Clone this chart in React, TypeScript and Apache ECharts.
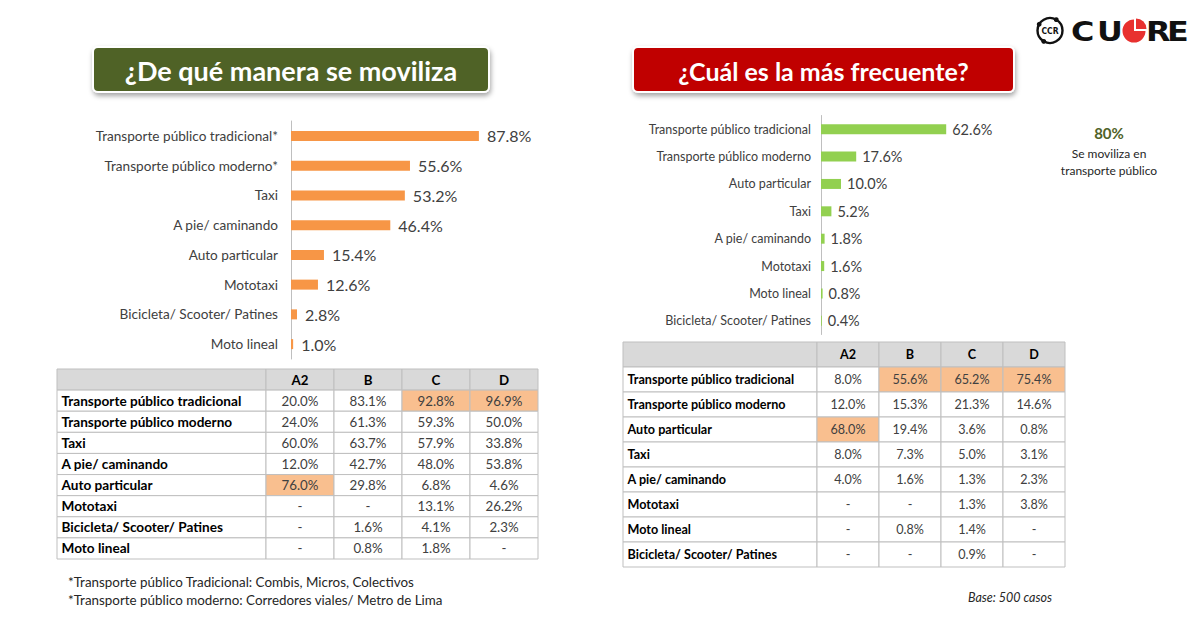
import React, { useEffect, useRef } from 'react';
import * as echarts from 'echarts';

// ---------- DATA ----------
const leftCategories = [
  'Transporte público tradicional*',
  'Transporte público moderno*',
  'Taxi',
  'A pie/ caminando',
  'Auto particular',
  'Mototaxi',
  'Bicicleta/ Scooter/ Patines',
  'Moto lineal',
];
const leftValues = [87.8, 55.6, 53.2, 46.4, 15.4, 12.6, 2.8, 1.0];

const rightCategories = [
  'Transporte público tradicional',
  'Transporte público moderno',
  'Auto particular',
  'Taxi',
  'A pie/ caminando',
  'Mototaxi',
  'Moto lineal',
  'Bicicleta/ Scooter/ Patines',
];
const rightValues = [62.6, 17.6, 10.0, 5.2, 1.8, 1.6, 0.8, 0.4];

const segments = ['A2', 'B', 'C', 'D'];

const leftTableRows = [
  'Transporte público tradicional',
  'Transporte público moderno',
  'Taxi',
  'A pie/ caminando',
  'Auto particular',
  'Mototaxi',
  'Bicicleta/ Scooter/ Patines',
  'Moto lineal',
];
const leftA2 = [20.0, 24.0, 60.0, 12.0, 76.0, null, null, null];
const leftB = [83.1, 61.3, 63.7, 42.7, 29.8, null, 1.6, 0.8];
const leftC = [92.8, 59.3, 57.9, 48.0, 6.8, 13.1, 4.1, 1.8];
const leftD = [96.9, 50.0, 33.8, 53.8, 4.6, 26.2, 2.3, null];
const leftHighlights = [[0, 2], [0, 3], [4, 0]];

const rightTableRows = [
  'Transporte público tradicional',
  'Transporte público moderno',
  'Auto particular',
  'Taxi',
  'A pie/ caminando',
  'Mototaxi',
  'Moto lineal',
  'Bicicleta/ Scooter/ Patines',
];
const rightA2 = [8.0, 12.0, 68.0, 8.0, 4.0, null, null, null];
const rightB = [55.6, 15.3, 19.4, 7.3, 1.6, null, 0.8, null];
const rightC = [65.2, 21.3, 3.6, 5.0, 1.3, 1.3, 1.4, 0.9];
const rightD = [75.4, 14.6, 0.8, 3.1, 2.3, 3.8, null, null];
const rightHighlights = [[0, 1], [0, 2], [0, 3], [2, 0]];

const footnotes = [
  '*Transporte público Tradicional: Combis, Micros, Colectivos',
  '*Transporte público moderno: Corredores viales/ Metro de Lima',
];

// ---------- STYLE ----------
const FONT = 'Lato, "Open Sans", sans-serif';
const BORDER = '#bfbfbf';
const HEADER_BG = '#d9d9d9';
const HL = '#f9bf8f';
const TXT = '#404040';

const fmt = (v: number | null) => (v == null ? '-' : v.toFixed(1) + '%');

type Cell = { value: number[]; text: string; bg: string; bold: boolean; color: string };

function tableParts(
  rows: string[],
  columns: (number | null)[][],
  highlights: number[][],
  gridIdx: number,
) {
  const yCats = ['hdr', ...rows];
  const xAxes = [
    { gridIndex: gridIdx, type: 'category', data: ['label'], show: false },
    { gridIndex: gridIdx + 1, type: 'category', data: segments, show: false },
  ];
  const yAxes = [
    { gridIndex: gridIdx, type: 'category', data: yCats, inverse: true, show: false },
    { gridIndex: gridIdx + 1, type: 'category', data: yCats, inverse: true, show: false },
  ];
  const labelCells: Cell[] = yCats.map((name, r) => ({
    value: [0, r],
    text: r === 0 ? '' : name,
    bg: r === 0 ? HEADER_BG : '#ffffff',
    bold: true,
    color: '#000',
  }));
  const valueCells: Cell[] = [];
  for (let r = 0; r < yCats.length; r++) {
    for (let c = 0; c < segments.length; c++) {
      if (r === 0) {
        valueCells.push({ value: [c, 0], text: segments[c], bg: HEADER_BG, bold: true, color: '#000' });
      } else {
        const v = columns[c][r - 1];
        const hl = highlights.some((h) => h[0] === r - 1 && h[1] === c);
        valueCells.push({ value: [c, r, v == null ? 0 : v], text: fmt(v), bg: hl ? HL : '#ffffff', bold: false, color: TXT });
      }
    }
  }
  return { xAxes, yAxes, labelCells, valueCells };
}

function buildOption() {
  const grids = [
    { left: 291, top: 121, width: 214, height: 238 },
    { left: 821, top: 115.5, width: 200, height: 219 },
    { left: 57, top: 369, width: 209, height: 190 },
    { left: 266, top: 369, width: 272, height: 190 },
    { left: 623, top: 342, width: 194, height: 225 },
    { left: 817, top: 342, width: 248, height: 225 },
  ].map((g) => ({ ...g, outerBoundsMode: 'none', containLabel: false }));

  const lt = tableParts(leftTableRows, [leftA2, leftB, leftC, leftD], leftHighlights, 2);
  const rt = tableParts(rightTableRows, [rightA2, rightB, rightC, rightD], rightHighlights, 4);

  const xAxis: any[] = [
    { gridIndex: 0, type: 'value', min: 0, max: 100, show: false },
    { gridIndex: 1, type: 'value', min: 0, max: 100, show: false },
    ...lt.xAxes,
    ...rt.xAxes,
  ];
  const catAxis = (gridIndex: number, data: string[], fontSize: number, margin: number) => ({
    gridIndex,
    type: 'category',
    data,
    inverse: true,
    axisLine: { show: true, lineStyle: { color: BORDER, width: 1 } },
    axisTick: { show: false },
    axisLabel: { fontSize, color: TXT, margin, fontFamily: FONT },
  });
  const yAxis: any[] = [
    catAxis(0, leftCategories, 13.6, 13),
    catAxis(1, rightCategories, 12.5, 10),
    ...lt.yAxes,
    ...rt.yAxes,
  ];

  const barSeries = (idx: number, data: number[], color: string, width: number, fontSize: number, dist: number) => ({
    type: 'bar',
    xAxisIndex: idx,
    yAxisIndex: idx,
    data,
    barWidth: width,
    itemStyle: { color },
    label: {
      show: true,
      position: 'right',
      distance: dist,
      fontSize,
      color: TXT,
      fontFamily: FONT,
      formatter: (p: any) => Number(p.value).toFixed(1) + '%',
    },
    emphasis: { disabled: true },
  });

  const cellSeries = (axisIdx: number, cells: Cell[], fontSize: number, isLabel: boolean) => ({
    type: 'custom',
    xAxisIndex: axisIdx,
    yAxisIndex: axisIdx,
    data: cells.map((c) => c.value),
    encode: { x: 0, y: 1 },
    renderItem: (params: any, api: any) => {
      const cell = cells[params.dataIndex];
      const p = api.coord([api.value(0), api.value(1)]);
      const s = api.size([1, 1]);
      return {
        type: 'rect',
        shape: { x: p[0] - s[0] / 2, y: p[1] - s[1] / 2, width: s[0], height: s[1] },
        style: { fill: cell.bg, stroke: BORDER, lineWidth: 1 },
        textContent: {
          style: {
            text: cell.text,
            fill: cell.color,
            fontSize,
            fontFamily: FONT,
            fontWeight: cell.bold ? 'bold' : 'normal',
          },
        },
        textConfig: { position: isLabel ? 'insideLeft' : 'inside', distance: 5 },
      };
    },
    emphasis: { disabled: true },
  });

  const series: any[] = [
    barSeries(0, leftValues, '#f79646', 10, 16, 8),
    barSeries(1, rightValues, '#92d050', 10, 14.5, 6),
    cellSeries(2, lt.labelCells, 13.6, true),
    cellSeries(3, lt.valueCells, 13.3, false),
    cellSeries(4, rt.labelCells, 12.6, true),
    cellSeries(5, rt.valueCells, 12.6, false),
  ];

  const text = (x: number, y: number, t: string, o: any = {}) => ({
    type: 'text',
    x,
    y,
    scaleX: o.scaleX || 1,
    style: {
      text: t,
      fill: o.fill || '#262626',
      fontSize: o.fontSize || 13,
      fontFamily: o.fontFamily || FONT,
      fontWeight: o.fontWeight || 'normal',
      fontStyle: o.fontStyle || 'normal',
      align: o.align || 'left',
      verticalAlign: 'middle',
      textAlign: o.align || 'left',
      textVerticalAlign: 'middle',
    },
    z: 10,
  });

  const titleBox = (x: number, y: number, w: number, h: number, fill: string, t: string, fs: number) => [
    {
      type: 'rect',
      shape: { x, y, width: w, height: h, r: 5 },
      style: {
        fill,
        stroke: '#ffffff',
        lineWidth: 2,
        shadowBlur: 5,
        shadowOffsetX: 1,
        shadowOffsetY: 3,
        shadowColor: 'rgba(0,0,0,0.35)',
      },
      z: 5,
    },
    text(x + w / 2, y + h / 2 + 1, t, { fill: '#ffffff', fontSize: fs, fontWeight: 'bold', align: 'center' }),
  ];

  const logoFont = '"DejaVu Sans", sans-serif';
  const letter = (x: number, t: string) =>
    text(x, 31.5, t, { fontSize: 27, fontWeight: 'bold', fill: '#111', fontFamily: logoFont, scaleX: 1.18 });
  const ringCx = 1050;
  const ringCy = 30.5;
  const ringR = 12.5;
  const dot = (deg: number) => ({
    type: 'circle',
    shape: {
      cx: ringCx + ringR * Math.cos((deg * Math.PI) / 180),
      cy: ringCy + ringR * Math.sin((deg * Math.PI) / 180),
      r: 2.4,
    },
    style: { fill: '#111' },
    z: 11,
  });
  const graphic: any[] = [
    ...titleBox(93, 47, 396, 45, '#4f6228', '¿De qué manera se moviliza', 27),
    ...titleBox(633, 47, 381, 45, '#c00000', '¿Cuál es la más frecuente?', 25),
    // logo
    { type: 'circle', shape: { cx: ringCx, cy: ringCy, r: ringR }, style: { fill: 'none', stroke: '#111', lineWidth: 2.4 }, z: 10 },
    dot(-60),
    dot(120),
    dot(-150),
    text(ringCx, ringCy + 0.5, 'CCR', { fontSize: 9, fontWeight: 'bold', align: 'center', fill: '#111', fontFamily: logoFont, scaleX: 0.85 }),
    letter(1071, 'C'),
    letter(1097, 'U'),
    {
      type: 'sector',
      shape: { cx: 1134, cy: 31, r: 11.5, r0: 0, startAngle: 0, endAngle: Math.PI * 1.5, clockwise: true },
      style: { fill: '#e8312f' },
      z: 10,
    },
    {
      type: 'sector',
      shape: { cx: 1136, cy: 29, r: 10.5, r0: 0, startAngle: -Math.PI / 2, endAngle: 0, clockwise: true },
      style: { fill: '#e8312f' },
      z: 10,
    },
    letter(1146, 'R'),
    letter(1167, 'E'),
    // side note
    text(1109, 133, '80%', { fontSize: 15, fontWeight: 'bold', align: 'center', fill: '#4f6228' }),
    text(1109, 153, 'Se moviliza en', { fontSize: 12, align: 'center' }),
    text(1109, 170, 'transporte público', { fontSize: 12, align: 'center' }),
    // footnotes
    text(68, 582, footnotes[0], { fontSize: 13.4 }),
    text(68, 600, footnotes[1], { fontSize: 13.4 }),
    text(1010, 597, 'Base: 500 casos', { fontSize: 12.5, align: 'center', fontStyle: 'italic' }),
  ];

  return {
    animation: false,
    backgroundColor: '#ffffff',
    grid: grids,
    xAxis,
    yAxis,
    series,
    graphic,
  };
}

export default function App() {
  const ref = useRef<HTMLDivElement>(null);
  useEffect(() => {
    const chart = echarts.init(ref.current!, null, { renderer: 'svg' });
    chart.setOption(buildOption() as any);
    return () => chart.dispose();
  }, []);
  return (
    <div
      ref={ref}
      style={{ position: 'fixed', left: 0, top: 0, width: 1200, height: 630, background: '#fff' }}
    />
  );
}
